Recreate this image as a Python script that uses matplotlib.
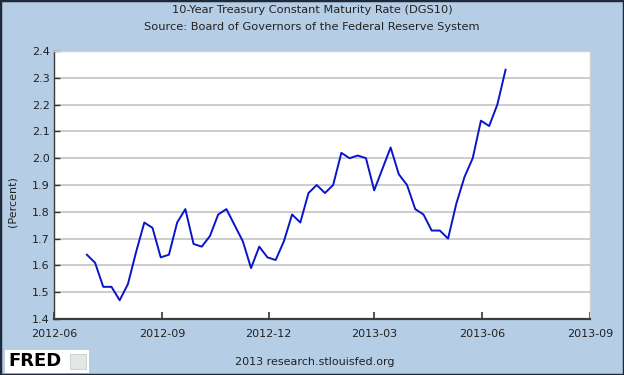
import matplotlib
matplotlib.use("Agg")
import matplotlib.pyplot as plt
import numpy as np
import pandas as pd

# weekly DGS10, week ending Friday
start_date = "2012-06-29"
rates = [1.64, 1.61, 1.52, 1.52, 1.47, 1.53, 1.65, 1.76, 1.74, 1.63,
         1.64, 1.76, 1.81, 1.68, 1.67, 1.71, 1.79, 1.81, 1.75, 1.69,
         1.59, 1.67, 1.63, 1.62, 1.69, 1.79, 1.76, 1.87, 1.90, 1.87,
         1.90, 2.02, 2.00, 2.01, 2.00, 1.88, 1.96, 2.04, 1.94, 1.90,
         1.81, 1.79, 1.73, 1.73, 1.70, 1.83, 1.93, 2.00, 2.14, 2.12,
         2.20, 2.33]
dates = pd.date_range(start_date, periods=len(rates), freq="7D")

tick_labels = ["2012-06", "2012-09", "2012-12", "2013-03", "2013-06", "2013-09"]
y_ticks = [1.4, 1.5, 1.6, 1.7, 1.8, 1.9, 2.0, 2.1, 2.2, 2.3, 2.4]

bg = "#B5CDE5"
fig = plt.figure(figsize=(6.24, 3.75), dpi=100, facecolor=bg)
ax = fig.add_axes([54/624, 1-319/375, (590-54)/624, (319-51)/375])
ax.set_facecolor("white")

ax.plot(dates, rates, color="#0A14C8", lw=1.4, zorder=3)

tick_dates = pd.to_datetime([t + "-01" for t in tick_labels])
ax.set_xlim(tick_dates[0], tick_dates[-1])
ax.set_xticks(tick_dates)
ax.set_xticklabels(tick_labels)
ax.set_ylim(1.4, 2.4)
ax.set_yticks(y_ticks)
ax.set_yticklabels([f"{v:.1f}" for v in y_ticks])
ax.yaxis.grid(True, color="#C4C4C4", lw=1.2, zorder=1)
ax.set_axisbelow(True)

ax.tick_params(axis="both", direction="in", labelsize=8, colors="#333333",
               labelcolor="#222222")
ax.tick_params(axis="x", length=5, width=1.2, pad=7)
ax.tick_params(axis="y", length=4, width=1, pad=3)

for s in ["left", "bottom"]:
    ax.spines[s].set_color("#3C3C3C")
ax.spines["bottom"].set_linewidth(1.6)
ax.spines["left"].set_linewidth(1.0)
for s in ["top", "right"]:
    ax.spines[s].set_color("#D0D0D0")
    ax.spines[s].set_linewidth(1.0)

ax.set_ylabel("(Percent)", fontsize=8, color="#222222")
ax.yaxis.set_label_coords(18/624, 1-202/375, transform=fig.transFigure)

fig.text(0.5, 1-10/375, "10-Year Treasury Constant Maturity Rate (DGS10)",
         ha="center", va="center", fontsize=8.2, color="#222222")
fig.text(0.5, 1-27/375, "Source: Board of Governors of the Federal Reserve System",
         ha="center", va="center", fontsize=8.2, color="#222222")
fig.text(315/624, 1-362/375, "2013 research.stlouisfed.org",
         ha="center", va="center", fontsize=8, color="#222222")

# FRED logo box
fig.patches.append(plt.Rectangle((5/624, 1-373/375), 84/624, 23/375,
                                 transform=fig.transFigure, fc="white", ec="none"))
fig.patches.append(plt.Rectangle((70/624, 1-369/375), 16/624, 15/375,
                                 transform=fig.transFigure, fc="#E4E8E4", ec="#C8CCC8", lw=0.6))
fig.text(8/624, 1-361/375, "FRED", ha="left", va="center", fontsize=13,
         fontweight="bold", color="black")

# thin dark frame around the image
fig.patches.append(plt.Rectangle((0, 0), 1, 1, transform=fig.transFigure,
                                 fill=False, ec="#1E2A3A", lw=2.5))

fig.savefig("out.png", dpi=100, facecolor=bg)
